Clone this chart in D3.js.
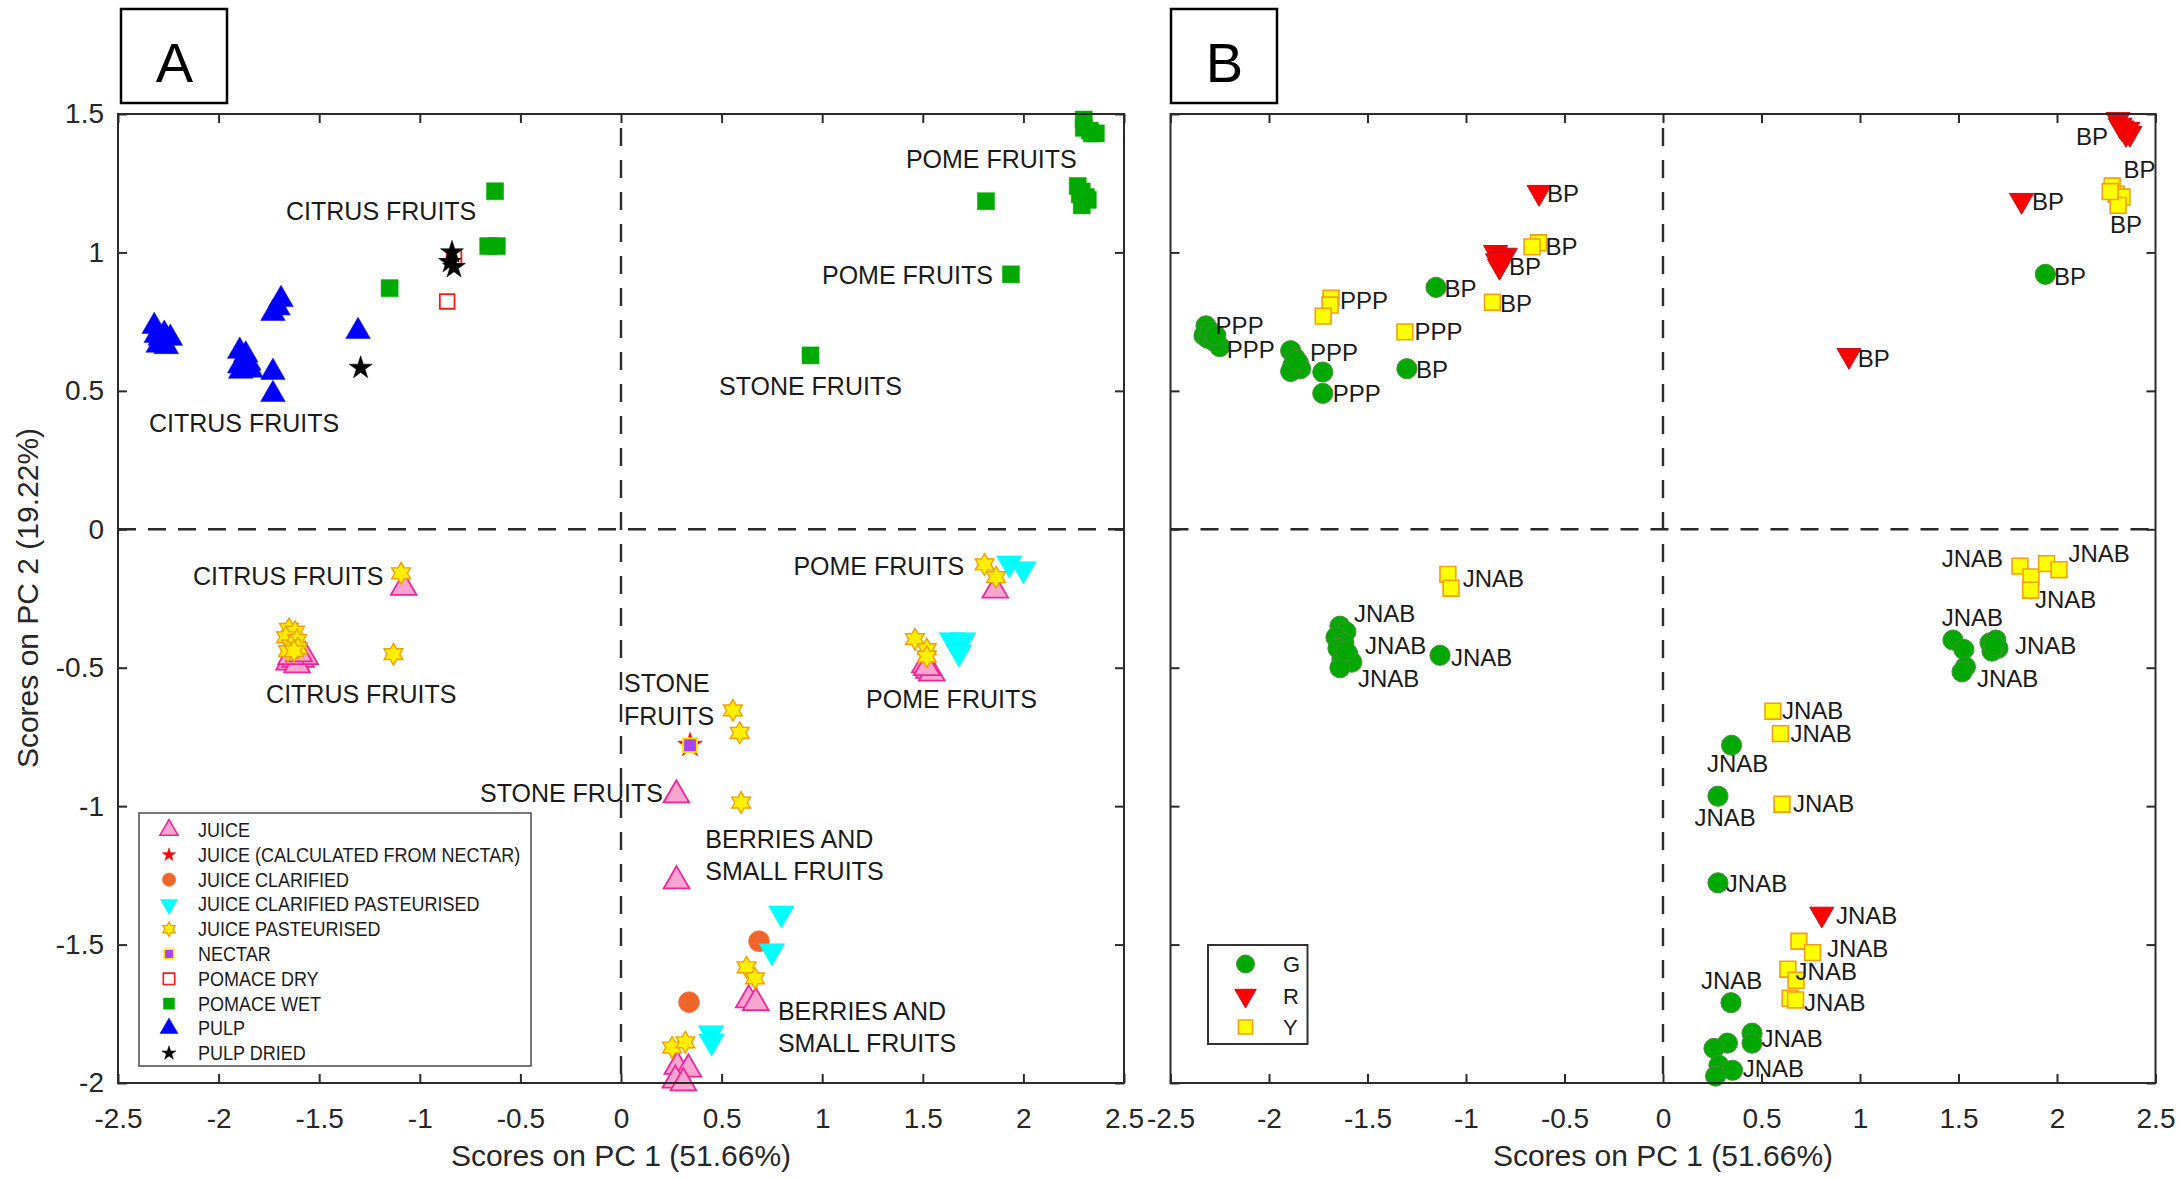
<!DOCTYPE html>
<html>
<head>
<meta charset="utf-8">
<script src="https://cdn.jsdelivr.net/npm/d3@7"></script>
<style>
  html, body { margin: 0; padding: 0; background: #ffffff; }
  svg { display: block; }
  text { font-family: "Liberation Sans", Arial, Helvetica, sans-serif; }
</style>
</head>
<body>
<svg id="chart" width="2183" height="1179"></svg>
<script>
// ---------------- data ----------------
const pc1Ticks = [-2.5, -2, -1.5, -1, -0.5, 0, 0.5, 1, 1.5, 2, 2.5];
const pc2Ticks = [-2, -1.5, -1, -0.5, 0, 0.5, 1, 1.5];
const pc1Title = "Scores on PC 1 (51.66%)";
const pc2Title = "Scores on PC 2 (19.22%)";
const panelNames = ["A", "B"];

// Panel A: product type, points as [PC1, PC2]
const productTypes = ["JUICE", "JUICE (CALCULATED FROM NECTAR)", "JUICE CLARIFIED",
  "JUICE CLARIFIED PASTEURISED", "JUICE PASTEURISED", "NECTAR", "POMACE DRY",
  "POMACE WET", "PULP", "PULP DRIED"];

const juice = [
  [-1.65, -0.48], [-1.62, -0.47], [-1.59, -0.47], [-1.61, -0.49], [-1.57, -0.46], [-1.64, -0.46], [-1.60, -0.45],
  [-1.08, -0.21],
  [1.86, -0.22], [1.51, -0.49], [1.53, -0.51], [1.545, -0.52], [1.52, -0.50],
  [0.275, -0.96], [0.276, -1.27],
  [0.635, -1.70], [0.67, -1.71],
  [0.28, -1.94], [0.335, -1.95], [0.27, -1.99], [0.31, -2.0]
];
const juiceFromNectar = [[0.343, -0.78]];
const juiceClarified = [[0.686, -1.488], [0.338, -1.708]];
const juiceClarifiedPasteurised = [
  [1.93, -0.123], [2.0, -0.144], [1.645, -0.40], [1.70, -0.40], [1.67, -0.42], [1.68, -0.445],
  [0.797, -1.387], [0.75, -1.524], [0.448, -1.82], [0.45, -1.85]
];
const juicePasteurised = [
  [-1.65, -0.36], [-1.62, -0.37], [-1.665, -0.39], [-1.61, -0.40], [-1.64, -0.42], [-1.605, -0.43],
  [-1.655, -0.44], [-1.625, -0.44],
  [-1.093, -0.159], [-1.131, -0.451],
  [1.807, -0.127], [1.864, -0.173], [1.461, -0.397], [1.52, -0.433], [1.52, -0.46],
  [0.556, -0.654], [0.59, -0.735], [0.597, -0.987],
  [0.624, -1.582], [0.666, -1.622], [0.254, -1.872], [0.32, -1.853]
];
const nectar = [[0.343, -0.78]];
const pomaceDry = [[-0.83, 0.983], [-0.864, 0.823]];
const pomaceWet = [
  [-0.626, 1.221], [-0.66, 1.023], [-0.617, 1.023], [-1.15, 0.871], [0.942, 0.628],
  [1.814, 1.185], [1.938, 0.921],
  [2.30, 1.48], [2.30, 1.45], [2.34, 1.43], [2.36, 1.43], [2.33, 1.44],
  [2.27, 1.24], [2.29, 1.22], [2.31, 1.20], [2.32, 1.19], [2.29, 1.17], [2.28, 1.21]
];
const pulp = [
  [-2.32, 0.733], [-2.31, 0.70], [-2.29, 0.69], [-2.27, 0.705], [-2.24, 0.69], [-2.30, 0.665], [-2.26, 0.66],
  [-1.895, 0.643], [-1.865, 0.63], [-1.85, 0.60], [-1.895, 0.59], [-1.84, 0.575], [-1.89, 0.571], [-1.87, 0.61],
  [-1.73, 0.567], [-1.73, 0.487], [-1.69, 0.83], [-1.705, 0.80], [-1.73, 0.78], [-1.307, 0.715]
];
const pulpDried = [[-0.84, 1.0], [-0.83, 0.947], [-0.85, 0.965], [-1.294, 0.583]];

// Panel A annotations: [text, PC1, PC2 at text baseline]
const labelsA = [
  ["CITRUS FRUITS", -1.665, 1.116],
  ["CITRUS FRUITS", -2.346, 0.350],
  ["POME FRUITS", 1.416, 1.304],
  ["POME FRUITS", 0.999, 0.885],
  ["STONE FRUITS", 0.487, 0.484],
  ["CITRUS FRUITS", -2.127, -0.202],
  ["CITRUS FRUITS", -1.764, -0.628],
  ["POME FRUITS", 0.857, -0.166],
  ["POME FRUITS", 1.218, -0.646],
  ["STONE", 0.015, -0.589],
  ["FRUITS", 0.015, -0.708],
  ["STONE FRUITS", -0.701, -0.986],
  ["BERRIES AND", 0.419, -1.152],
  ["SMALL FRUITS", 0.419, -1.268],
  ["BERRIES AND", 0.780, -1.773],
  ["SMALL FRUITS", 0.780, -1.889]
];

// Panel B: colour class, points as [PC1, PC2]
const colourClasses = ["G", "R", "Y"];
const classG = [
  [-2.32, 0.735], [-2.33, 0.70], [-2.31, 0.69], [-2.30, 0.715], [-2.28, 0.68], [-2.25, 0.66], [-2.27, 0.70],
  [-1.89, 0.645], [-1.87, 0.62], [-1.85, 0.60], [-1.88, 0.59], [-1.84, 0.58], [-1.89, 0.57], [-1.86, 0.61],
  [-1.727, 0.568], [-1.727, 0.491], [-1.152, 0.874], [-1.30, 0.58], [1.941, 0.921],
  [-1.64, -0.35], [-1.61, -0.37], [-1.66, -0.39], [-1.62, -0.41], [-1.65, -0.43], [-1.60, -0.45],
  [-1.63, -0.47], [-1.58, -0.48], [-1.64, -0.50], [-1.61, -0.44],
  [-1.132, -0.455],
  [1.472, -0.40], [1.527, -0.434], [1.535, -0.497], [1.518, -0.515],
  [1.66, -0.41], [1.69, -0.40], [1.70, -0.43], [1.67, -0.44], [1.68, -0.42],
  [0.348, -0.78], [0.279, -0.964], [0.279, -1.277], [0.345, -1.71],
  [0.452, -1.82], [0.452, -1.856], [0.327, -1.856], [0.259, -1.875], [0.284, -1.936], [0.353, -1.954], [0.267, -1.975]
];
const classR = [
  [-0.629, 1.217], [-0.85, 1.0], [-0.80, 0.99], [-0.84, 0.97], [-0.83, 0.95], [-0.82, 0.975],
  [2.31, 1.48], [2.33, 1.45], [2.35, 1.43], [2.37, 1.43], [2.36, 1.445], [2.32, 1.46],
  [1.82, 1.188], [0.944, 0.628], [0.806, -1.39]
];
const classY = [
  [-0.632, 1.035], [-0.665, 1.02], [-0.866, 0.82], [-1.685, 0.835], [-1.69, 0.81], [-1.725, 0.77], [-1.31, 0.713],
  [2.28, 1.24], [2.30, 1.21], [2.33, 1.20], [2.31, 1.17], [2.27, 1.22],
  [-1.092, -0.163], [-1.076, -0.213],
  [1.812, -0.133], [1.868, -0.172], [1.866, -0.22], [1.947, -0.124], [2.01, -0.146],
  [0.558, -0.657], [0.596, -0.738], [0.604, -0.993],
  [0.69, -1.488], [0.759, -1.529], [0.634, -1.589], [0.675, -1.629], [0.645, -1.694], [0.673, -1.70]
];

// Panel B annotations: [text, PC1, PC2 at text baseline]
const labelsB = [
  ["BP", -0.589, 1.181], ["BP", -0.596, 0.990], ["BP", -0.782, 0.917], ["BP", -1.109, 0.838],
  ["BP", -0.827, 0.784], ["BP", -1.254, 0.545], ["BP", 2.096, 1.387], ["BP", 2.338, 1.268],
  ["BP", 2.269, 1.069], ["BP", 1.873, 1.152], ["BP", 1.985, 0.881], ["BP", 0.988, 0.585],
  ["PPP", -1.640, 0.795], ["PPP", -1.261, 0.683], ["PPP", -2.271, 0.704], ["PPP", -2.215, 0.618],
  ["PPP", -1.792, 0.607], ["PPP", -1.677, 0.459],
  ["JNAB", -1.017, -0.209], ["JNAB", -1.569, -0.336], ["JNAB", -1.513, -0.451], ["JNAB", -1.548, -0.571],
  ["JNAB", -1.076, -0.495], ["JNAB", 1.415, -0.137], ["JNAB", 2.058, -0.119], ["JNAB", 1.888, -0.285],
  ["JNAB", 1.415, -0.350], ["JNAB", 1.787, -0.451], ["JNAB", 1.594, -0.571], ["JNAB", 0.604, -0.686],
  ["JNAB", 0.647, -0.769], ["JNAB", 0.223, -0.878], ["JNAB", 0.660, -1.022], ["JNAB", 0.160, -1.073],
  ["JNAB", 0.319, -1.311], ["JNAB", 0.878, -1.427], ["JNAB", 0.832, -1.546], ["JNAB", 0.673, -1.629],
  ["JNAB", 0.716, -1.741], ["JNAB", 0.193, -1.661], ["JNAB", 0.500, -1.871], ["JNAB", 0.405, -1.979]
];

// ---------------- marker shapes ----------------
const symbolTriangleDown = {
  draw(ctx, size) {
    const y = -Math.sqrt(size / (Math.sqrt(3) * 3));
    ctx.moveTo(0, -y * 2);
    ctx.lineTo(-Math.sqrt(3) * y, y);
    ctx.lineTo(Math.sqrt(3) * y, y);
    ctx.closePath();
  }
};
// six-pointed star; size is the squared point-to-point diameter
const symbolHexagram = {
  draw(ctx, size) {
    const R = Math.sqrt(size) / 2, r = R / Math.sqrt(3);
    for (let i = 0; i < 12; i++) {
      const a = -Math.PI / 2 + i * Math.PI / 6;
      const rad = i % 2 ? r : R;
      const px = rad * Math.cos(a), py = rad * Math.sin(a);
      if (i === 0) ctx.moveTo(px, py); else ctx.lineTo(px, py);
    }
    ctx.closePath();
  }
};

// style table for panel A (plot order = legend order)
const seriesA = [
  { name: productTypes[0], data: juice, type: d3.symbolTriangle, size: 285, legendSize: 140, fill: "#f8a6d1", stroke: "#f0259b", sw: 1.8 },
  { name: productTypes[1], data: juiceFromNectar, type: d3.symbolStar, size: 190, legendSize: 55, fill: "#ff0000", stroke: "#ff0000", sw: 0.5 },
  { name: productTypes[2], data: juiceClarified, type: d3.symbolCircle, size: 346, legendSize: 140, fill: "#f2652a", stroke: "#f2652a", sw: 0.5 },
  { name: productTypes[3], data: juiceClarifiedPasteurised, type: symbolTriangleDown, size: 284, legendSize: 130, fill: "#00ffff", stroke: "#00f0f0", sw: 0.5 },
  { name: productTypes[4], data: juicePasteurised, type: symbolHexagram, size: 470, legendSize: 200, fill: "#ffee00", stroke: "#eea000", sw: 1.4 },
  { name: productTypes[5], data: nectar, type: d3.symbolSquare, size: 190, legendSize: 90, fill: "#a844f4", stroke: "#ffe400", sw: 2 },
  { name: productTypes[6], data: pomaceDry, type: d3.symbolSquare, size: 215, legendSize: 130, fill: "none", stroke: "#ff1a1a", sw: 1.8 },
  { name: productTypes[7], data: pomaceWet, type: d3.symbolSquare, size: 290, legendSize: 125, fill: "#00aa00", stroke: "#00aa00", sw: 0.5 },
  { name: productTypes[8], data: pulp, type: d3.symbolTriangle, size: 262, legendSize: 140, fill: "#0000ff", stroke: "#0000ff", sw: 0.5 },
  { name: productTypes[9], data: pulpDried, type: d3.symbolStar, size: 165, legendSize: 62, fill: "#000000", stroke: "#000000", sw: 0.5 }
];
const seriesB = [
  { name: colourClasses[0], data: classG, type: d3.symbolCircle, size: 320, legendSize: 254, fill: "#00a800", stroke: "#4b8f3c", sw: 1 },
  { name: colourClasses[1], data: classR, type: symbolTriangleDown, size: 250, legendSize: 200, fill: "#ff0000", stroke: "#c8101a", sw: 1 },
  { name: colourClasses[2], data: classY, type: d3.symbolSquare, size: 250, legendSize: 196, fill: "#ffff00", stroke: "#f0a010", sw: 1.6 }
];

// ---------------- layout ----------------
const svg = d3.select("#chart");
const plotTop = 114, plotBottom = 1083;
const panels = [
  { key: panelNames[0], left: 118, right: 1124, series: seriesA, labels: labelsA, labelSize: 25, yLabels: true,
    badge: { x: 121, y: 9, w: 106, h: 94 } },
  { key: panelNames[1], left: 1170.5, right: 2155.5, series: seriesB, labels: labelsB, labelSize: 24, yLabels: false,
    badge: { x: 1171, y: 9, w: 106, h: 94 } }
];
const axisColor = "#2b2b2b";

panels.forEach(p => {
  const x = d3.scaleLinear().domain([-2.5, 2.5]).range([p.left, p.right]);
  const y = d3.scaleLinear().domain([-2, 1.5]).range([plotBottom, plotTop]);
  const g = svg.append("g").attr("class", "panel-" + p.key);

  // panel badge
  g.append("rect").attr("x", p.badge.x).attr("y", p.badge.y).attr("width", p.badge.w).attr("height", p.badge.h)
    .attr("fill", "#fff").attr("stroke", "#000").attr("stroke-width", 2.5);
  g.append("text").attr("x", p.badge.x + p.badge.w / 2 + 0.5).attr("y", 82)
    .attr("text-anchor", "middle").attr("font-size", 56).attr("fill", "#000").text(p.key);

  // axes (ticks pointing inward, mirrored on top/right)
  const fmt = d => String(d);
  const styleAxis = sel => {
    sel.attr("font-family", null).attr("font-size", null);
    sel.select(".domain").remove();
    sel.selectAll(".tick line").attr("stroke", axisColor).attr("stroke-width", 2);
    sel.selectAll(".tick text").attr("fill", "#262626").attr("font-size", 28);
  };
  g.append("g").attr("transform", `translate(0,${plotBottom})`)
    .call(d3.axisBottom(x).tickValues(pc1Ticks).tickFormat(fmt).tickSizeInner(-9).tickSizeOuter(0).tickPadding(25))
    .call(styleAxis);
  g.append("g").attr("transform", `translate(0,${plotTop})`)
    .call(d3.axisTop(x).tickValues(pc1Ticks).tickFormat("").tickSizeInner(-9).tickSizeOuter(0))
    .call(styleAxis);
  g.append("g").attr("transform", `translate(${p.left},0)`)
    .call(d3.axisLeft(y).tickValues(pc2Ticks).tickFormat(p.yLabels ? fmt : "").tickSizeInner(-9).tickSizeOuter(0).tickPadding(14))
    .call(styleAxis);
  g.append("g").attr("transform", `translate(${p.right},0)`)
    .call(d3.axisRight(y).tickValues(pc2Ticks).tickFormat("").tickSizeInner(-9).tickSizeOuter(0))
    .call(styleAxis);

  // markers, in plotting order
  p.series.forEach(s => {
    g.append("g").selectAll("path").data(s.data).join("path")
      .attr("transform", d => `translate(${x(d[0])},${y(d[1])})`)
      .attr("d", d3.symbol(s.type, s.size))
      .attr("fill", s.fill).attr("stroke", s.stroke).attr("stroke-width", s.sw);
  });

  // annotations
  g.append("g").selectAll("text").data(p.labels).join("text")
    .attr("x", d => x(d[1])).attr("y", d => y(d[2]))
    .attr("font-size", p.labelSize).attr("fill", "#1a1a1a").text(d => d[0]);

  // zero reference lines
  g.append("line").attr("x1", p.left).attr("x2", p.right).attr("y1", y(0)).attr("y2", y(0))
    .attr("stroke", "#2a2a2a").attr("stroke-width", 2.4).attr("stroke-dasharray", "18,12");
  g.append("line").attr("x1", x(0)).attr("x2", x(0)).attr("y1", plotTop).attr("y2", plotBottom)
    .attr("stroke", "#2a2a2a").attr("stroke-width", 2.4).attr("stroke-dasharray", "18,14")
    .attr("stroke-dashoffset", -14);

  // plot frame
  g.append("rect").attr("x", p.left).attr("y", plotTop).attr("width", p.right - p.left).attr("height", plotBottom - plotTop)
    .attr("fill", "none").attr("stroke", axisColor).attr("stroke-width", 2);

  // x axis title
  g.append("text").attr("x", (p.left + p.right) / 2).attr("y", 1166).attr("text-anchor", "middle")
    .attr("font-size", 30).attr("fill", "#262626").text(pc1Title);

  p.x = x; p.y = y;
});

// y axis title (panel A only)
svg.append("text").attr("transform", "translate(38,598) rotate(-90)").attr("text-anchor", "middle")
  .attr("font-size", 30).attr("fill", "#262626").text(pc2Title);

// ---------------- legends ----------------
// Panel A legend
const legA = svg.append("g");
legA.append("rect").attr("x", 139).attr("y", 813).attr("width", 392).attr("height", 253)
  .attr("fill", "#fff").attr("stroke", "#555").attr("stroke-width", 1.6);
seriesA.forEach((s, i) => {
  const cy = 830 + i * 24.8;
  legA.append("path").attr("transform", `translate(169,${cy})`)
    .attr("d", d3.symbol(s.type, s.legendSize))
    .attr("fill", s.fill).attr("stroke", s.stroke).attr("stroke-width", Math.min(s.sw, 1.6));
  legA.append("text").attr("transform", `translate(198,${cy + 7}) scale(0.9,1)`)
    .attr("font-size", 20).attr("fill", "#1a1a1a").text(s.name);
});

// Panel B legend
const legB = svg.append("g");
legB.append("rect").attr("x", 1208).attr("y", 945).attr("width", 99.5).attr("height", 99)
  .attr("fill", "#fff").attr("stroke", "#333").attr("stroke-width", 2);
seriesB.forEach((s, i) => {
  const cy = 964 + i * 31.5;
  legB.append("path").attr("transform", `translate(1245.5,${cy})`)
    .attr("d", d3.symbol(s.type, s.legendSize))
    .attr("fill", s.fill).attr("stroke", s.stroke).attr("stroke-width", s.sw);
  legB.append("text").attr("x", 1283).attr("y", cy + 8)
    .attr("font-size", 22).attr("fill", "#1a1a1a").text(s.name);
});
</script>
</body>
</html>
